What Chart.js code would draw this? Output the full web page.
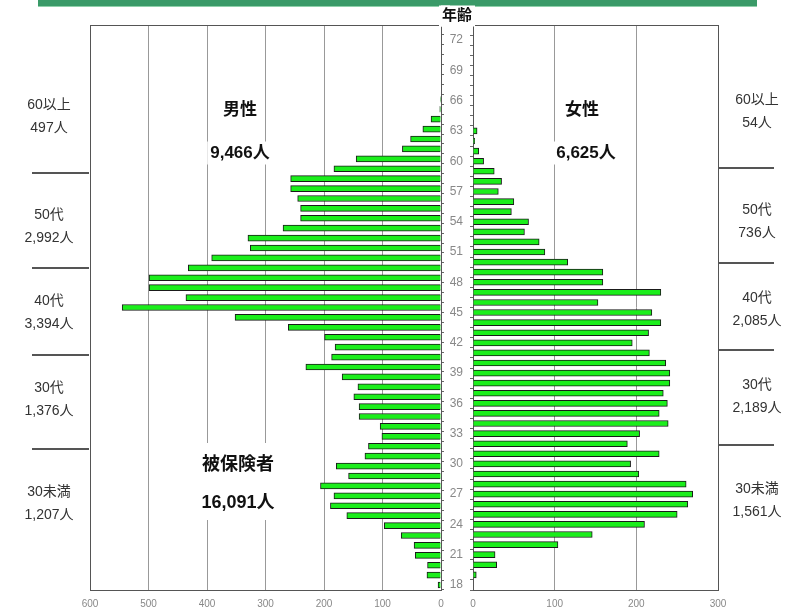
<!DOCTYPE html>
<html>
<head>
<meta charset="utf-8">
<script src="https://cdn.jsdelivr.net/npm/chart.js@4.4.1/dist/chart.umd.min.js"></script>
<style>
body { margin: 0; background: #fff; width: 787px; height: 614px; overflow: hidden; position: relative; }
#topBar { position: absolute; left: 38px; top: 0; width: 719px; height: 6px; background: #3a9a68; border-bottom: 1px solid #8fd0aa; }
.box { position: absolute; top: 0; height: 614px; }
</style>
</head>
<body>
<div id="topBar"></div>
<div class="box" style="left:0; width:450px;"><canvas id="canvasMale"></canvas></div>
<div class="box" style="left:441px; width:346px;"><canvas id="canvasFemale"></canvas></div>
<script>
// age categories (male chart has its own slightly tighter scale)
var maleAges = [18,19,20,21,22,23,24,25,26,27,28,29,30,31,32,33,34,35,36,37,38,39,40,41,42,43,44,45,46,47,48,49,50,51,52,53,54,55,56,57,58,59,60,61,62,63,64,65,66,67,68,69,70,71,72,73,74];
var femaleAges = [18,19,20,21,22,23,24,25,26,27,28,29,30,31,32,33,34,35,36,37,38,39,40,41,42,43,44,45,46,47,48,49,50,51,52,53,54,55,56,57,58,59,60,61,62,63,64,65,66,67,68,69,70,71,72,73];

var maleValues = [5,24,23,44,46,68,97,161,189,183,206,158,
    179,130,124,101,104,140,140,149,142,169,
    231,187,181,199,261,352,545,436,499,499,
    432,392,326,330,270,240,240,245,257,257,
    183,145,66,52,31,17,2,1,
    null,null,null,null,null,null,null];
var femaleValues = [null,4,29,27,104,146,210,250,263,269,261,203,
    193,228,189,204,239,228,238,233,241,241,
    236,216,195,215,230,219,153,230,159,159,
    116,88,81,63,68,47,50,31,35,26,
    13,7,2,5,
    null,null,null,null,null,null,null,null,null,null];

var maleTicks = [0,100,200,300,400,500,600];
var femaleTicks = [0,100,200,300];

var groupNames = ["60以上","50代","40代","30代","30未満"];
var maleGroupTotals = ["497人","2,992人","3,394人","1,376人","1,207人"];
var femaleGroupTotals = ["54人","736人","2,085人","2,189人","1,561人"];

var jpFont = '"Liberation Sans", "Noto Sans CJK JP", sans-serif';
var barGreen = "#1bee1b";

// all extra texts in page coordinates
var labels = [
    {t: "男性", x: 240, y: 110, size: 17, bold: true, box: true},
    {t: "9,466人", x: 240, y: 153, size: 17, bold: true, box: true},
    {t: "女性", x: 582, y: 110, size: 17, bold: true, box: true},
    {t: "6,625人", x: 586, y: 153, size: 17, bold: true, box: true},
    {t: "被保険者", x: 238, y: 465, size: 18, bold: true},
    {t: "16,091人", x: 238, y: 503, size: 18, bold: true},
    {t: "年齢", x: 457, y: 16, size: 15, bold: true, box: true}
];
var leftRows = [105, 215, 301, 388, 492];
var rightRows = [100, 210, 298, 385, 489];
for (var i = 0; i < groupNames.length; i++) {
    labels.push({t: groupNames[i], x: 49, y: leftRows[i], size: 14});
    labels.push({t: maleGroupTotals[i], x: 49, y: leftRows[i] + 23, size: 14});
    labels.push({t: groupNames[i], x: 757, y: rightRows[i], size: 14});
    labels.push({t: femaleGroupTotals[i], x: 757, y: rightRows[i] + 23, size: 14});
}
var leftSeps = [173, 268, 355, 449];
var rightSeps = [168, 263, 350, 445];

function textPlugin(offsetX) {
    return {
        id: "texts",
        afterDraw: function (chart) {
            var ctx = chart.ctx;
            ctx.save();
            ctx.translate(-offsetX, 0);
            // white panel behind the total label (gridlines break there)
            ctx.fillStyle = "#fff";
            ctx.fillRect(186, 443, 104, 77);
            ctx.strokeStyle = "#555";
            ctx.lineWidth = 2;
            for (var i = 0; i < leftSeps.length; i++) {
                ctx.beginPath(); ctx.moveTo(32, leftSeps[i]); ctx.lineTo(89, leftSeps[i]); ctx.stroke();
                ctx.beginPath(); ctx.moveTo(718, rightSeps[i]); ctx.lineTo(774, rightSeps[i]); ctx.stroke();
            }
            ctx.textAlign = "center";
            ctx.textBaseline = "middle";
            for (var j = 0; j < labels.length; j++) {
                var l = labels[j];
                ctx.font = (l.bold ? "bold " : "") + l.size + "px " + jpFont;
                if (l.box) {
                    var w = ctx.measureText(l.t).width;
                    ctx.fillStyle = "#fff";
                    ctx.fillRect(l.x - w / 2 - 3, l.y - l.size / 2 - 3, w + 6, l.size + 6);
                }
                ctx.fillStyle = l.bold ? "#111" : "#333";
                ctx.fillText(l.t, l.x, l.y);
            }
            ctx.restore();
        }
    };
}

var framePlugin = {
    id: "frame",
    beforeDatasetsDraw: function (chart) {
        var a = chart.chartArea, ctx = chart.ctx;
        ctx.save();
        ctx.strokeStyle = "#555";
        ctx.lineWidth = 1;
        ctx.strokeRect(Math.round(a.left) + 0.5, Math.round(a.top) + 0.5, Math.round(a.right - a.left), Math.round(a.bottom - a.top));
        ctx.restore();
    }
};

function xScale(max, reverse) {
    return {
        type: "linear", min: 0, max: max, reverse: reverse,
        afterFit: function (s) { s.height = 24; },
        afterBuildTicks: function (s) {
            var list = reverse ? maleTicks : femaleTicks;
            s.ticks = list.map(function (v) { return {value: v}; });
        },
        grid: {color: "#999", drawTicks: false},
        border: {display: false},
        ticks: {padding: 8, color: "#888", font: {size: 10, family: jpFont}}
    };
}

var maleChart = new Chart(document.getElementById("canvasMale"), {
    type: "bar",
    data: {
        labels: maleAges,
        datasets: [{data: maleValues, backgroundColor: barGreen, borderColor: "#1a1a1a", borderWidth: 1, barThickness: 6}]
    },
    options: {
        indexAxis: "y", responsive: true, maintainAspectRatio: false, animation: false,
        layout: {padding: {left: 90, right: 6, top: 25, bottom: 0}},
        plugins: {legend: {display: false}, tooltip: {enabled: false}},
        scales: {
            x: xScale(600, true),
            y: {
                position: "right", reverse: true,
                afterFit: function (s) { s.width = 3; },
                ticks: {display: false},
                grid: {drawOnChartArea: false, tickLength: 3, color: "#666"},
                border: {display: false}
            }
        }
    },
    plugins: [framePlugin, textPlugin(0)]
});

var femaleChart = new Chart(document.getElementById("canvasFemale"), {
    type: "bar",
    data: {
        labels: femaleAges,
        datasets: [{data: femaleValues, backgroundColor: barGreen, borderColor: "#1a1a1a", borderWidth: 1, barThickness: 6}]
    },
    options: {
        indexAxis: "y", responsive: true, maintainAspectRatio: false, animation: false,
        layout: {padding: {left: 0, right: 69, top: 25, bottom: 0}},
        plugins: {legend: {display: false}, tooltip: {enabled: false}},
        scales: {
            x: xScale(300, false),
            y: {
                position: "left", reverse: true,
                afterFit: function (s) { s.width = 32; },
                ticks: {
                    autoSkip: false, padding: 7, crossAlign: "center", color: "#888",
                    font: {size: 12, family: jpFont},
                    callback: function (v, i) {
                        var age = femaleAges[i];
                        return (age - 18) % 3 == 0 ? String(age) : "";
                    }
                },
                grid: {drawOnChartArea: false, tickLength: 3, color: "#666"},
                border: {display: false}
            }
        }
    },
    plugins: [framePlugin, textPlugin(441)]
});
</script>
</body>
</html>
